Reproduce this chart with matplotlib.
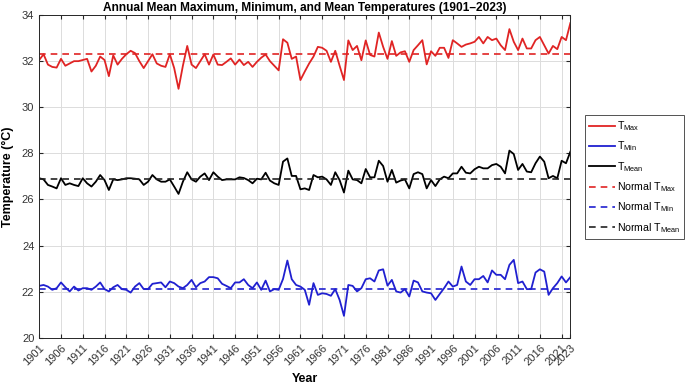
import numpy as np
import matplotlib
matplotlib.use("Agg")
import matplotlib.pyplot as plt

plt.rcParams['font.family'] = ['Liberation Sans', 'DejaVu Sans']
plt.rcParams['mathtext.fontset'] = 'custom'
plt.rcParams['mathtext.rm'] = 'Liberation Sans'
plt.rcParams['mathtext.it'] = 'Liberation Sans'

years = np.arange(1901, 2024)

# annual mean maximum temperature (°C)
tmax = [32.05, 32.30, 31.85, 31.75, 31.72, 32.10, 31.80, 31.90, 32.00, 32.00,
        32.05, 32.10, 31.55, 31.80, 32.20, 32.05, 31.35, 32.25, 31.85, 32.10,
        32.30, 32.45, 32.35, 32.00, 31.70, 32.00, 32.30, 31.90, 31.80, 31.75,
        32.30, 31.70, 30.80, 31.80, 32.66, 31.85, 31.70, 32.00, 32.30, 31.85,
        32.29, 31.85, 31.83, 31.97, 32.12, 31.85, 32.07, 31.83, 31.97, 31.75,
        31.97, 32.15, 32.29, 32.00, 31.80, 31.60, 32.95, 32.80, 32.10, 32.20,
        31.18, 31.55, 31.90, 32.20, 32.62, 32.58, 32.45, 31.97, 32.45, 31.80,
        31.18, 32.90, 32.48, 32.66, 32.04, 32.90, 32.27, 32.20, 33.24, 32.62,
        32.10, 32.87, 32.23, 32.38, 32.43, 31.97, 32.48, 32.69, 32.91, 31.86,
        32.43, 32.23, 32.58, 32.58, 32.14, 32.91, 32.77, 32.62, 32.72, 32.77,
        32.84, 33.05, 32.77, 33.05, 32.91, 32.98, 32.69, 32.48, 33.39, 32.84,
        32.48, 32.98, 32.55, 32.55, 32.91, 33.05, 32.69, 32.33, 32.66, 32.52,
        33.05, 32.91, 33.65]

# annual mean minimum temperature (°C)
tmin = [22.25, 22.29, 22.22, 22.08, 22.15, 22.40, 22.19, 22.01, 22.22, 22.05,
        22.15, 22.15, 22.08, 22.22, 22.40, 22.11, 22.01, 22.19, 22.29, 22.11,
        22.08, 21.96, 22.22, 22.37, 22.11, 22.11, 22.34, 22.37, 22.40, 22.19,
        22.44, 22.37, 22.22, 22.15, 22.29, 22.51, 22.19, 22.37, 22.44, 22.63,
        22.63, 22.58, 22.34, 22.25, 22.15, 22.40, 22.40, 22.54, 22.29, 22.15,
        22.40, 22.08, 22.48, 22.01, 22.11, 22.08, 22.55, 23.35, 22.54, 22.29,
        22.22, 22.08, 21.43, 22.37, 21.86, 21.93, 21.90, 21.82, 22.11, 21.64,
        20.95, 22.29, 22.25, 22.01, 22.15, 22.54, 22.58, 22.44, 22.92, 22.97,
        22.26, 22.51, 22.01, 21.96, 22.11, 21.79, 22.48, 22.40, 22.01, 21.96,
        21.93, 21.64, 21.90, 22.15, 22.44, 22.22, 22.29, 23.09, 22.44, 22.29,
        22.54, 22.54, 22.68, 22.40, 22.92, 22.73, 22.73, 22.54, 23.16, 23.38,
        22.37, 22.44, 22.11, 22.11, 22.83, 22.97, 22.87, 21.86, 22.15, 22.37,
        22.66, 22.40, 22.63]

# annual mean temperature (°C)
tmean = [26.92, 26.87, 26.63, 26.56, 26.48, 26.92, 26.63, 26.70, 26.63, 26.58,
         26.92, 26.70, 26.56, 26.77, 27.06, 26.84, 26.41, 26.87, 26.84, 26.87,
         26.92, 26.92, 26.90, 26.87, 26.63, 26.77, 27.06, 26.87, 26.77, 26.77,
         26.87, 26.56, 26.24, 26.77, 27.18, 26.87, 26.77, 26.99, 27.13, 26.84,
         27.18, 26.99, 26.84, 26.87, 26.87, 26.87, 26.96, 26.93, 26.84, 26.70,
         26.90, 26.87, 27.16, 26.82, 26.70, 26.63, 27.64, 27.78, 27.02, 27.02,
         26.44, 26.48, 26.41, 27.06, 26.96, 26.99, 26.87, 26.63, 27.18, 26.84,
         26.30, 27.25, 26.87, 26.84, 26.70, 27.32, 26.96, 26.96, 27.68, 27.45,
         26.77, 27.28, 26.73, 26.82, 26.87, 26.48, 27.10, 27.18, 27.10, 26.48,
         26.84, 26.58, 26.87, 26.99, 26.92, 27.13, 27.13, 27.42, 27.16, 27.13,
         27.31, 27.42, 27.35, 27.35, 27.49, 27.54, 27.42, 27.13, 28.12, 27.97,
         27.28, 27.54, 27.21, 27.18, 27.57, 27.86, 27.64, 26.92, 27.02, 26.92,
         27.68, 27.57, 28.07]

normal_tmax = 32.3
normal_tmin = 22.12
normal_tmean = 26.9

xticks = list(range(1901, 2022, 5)) + [2023]

fig = plt.figure(figsize=(6.88, 3.86), dpi=100)
ax = fig.add_axes([0.057, 0.125, 0.772, 0.836])

red = '#e02424'
blue = '#2020d0'

ax.plot(years, tmax, color=red, lw=1.3, label=r'T$_{\mathrm{Max}}$')
ax.plot(years, tmin, color=blue, lw=1.3, label=r'T$_{\mathrm{Min}}$')
ax.plot(years, tmean, color='black', lw=1.3, label=r'T$_{\mathrm{Mean}}$')
ax.plot([years[0], years[-1]], [normal_tmax] * 2, '--', color=red, lw=1.2,
        dashes=(4, 3), label=r'Normal T$_{\mathrm{Max}}$')
ax.plot([years[0], years[-1]], [normal_tmin] * 2, '--', color=blue, lw=1.2,
        dashes=(4, 3), label=r'Normal T$_{\mathrm{Min}}$')
ax.plot([years[0], years[-1]], [normal_tmean] * 2, '--', color='#222222', lw=1.2,
        dashes=(4, 3), label=r'Normal T$_{\mathrm{Mean}}$')

ax.set_xlim(1901, 2023)
ax.set_ylim(20, 34)
ax.set_xticks(xticks)
ax.set_xticklabels([str(y) for y in xticks], rotation=45, ha='right',
                   rotation_mode='anchor', fontsize=8, color='#333333')
ax.set_yticks(np.arange(20, 35, 2))
ax.tick_params(axis='y', labelsize=8, labelcolor='#333333')
ax.tick_params(direction='in', length=3, top=True, right=True, color='#262626')
ax.grid(True, color='#dcdcdc', lw=0.7)
ax.set_axisbelow(True)
for s in ax.spines.values():
    s.set_color('#262626')
    s.set_linewidth(0.7)

ax.set_title('Annual Mean Maximum, Minimum, and Mean Temperatures (1901\u20132023)',
             fontsize=8.6, fontweight='bold', pad=3)
ax.set_xlabel('Year', fontsize=9, fontweight='bold', labelpad=4)
ax.set_ylabel('Temperature (\u00b0C)', fontsize=9, fontweight='bold', labelpad=6)

leg = ax.legend(loc='upper left', bbox_to_anchor=(1.028, 0.69), fontsize=7.6,
                frameon=True, fancybox=False, edgecolor='#262626',
                handlelength=2.4, handletextpad=0.2, labelspacing=0.62,
                borderpad=0.4, borderaxespad=0)
leg.get_frame().set_linewidth(0.7)

fig.savefig('out.png', dpi=100)
